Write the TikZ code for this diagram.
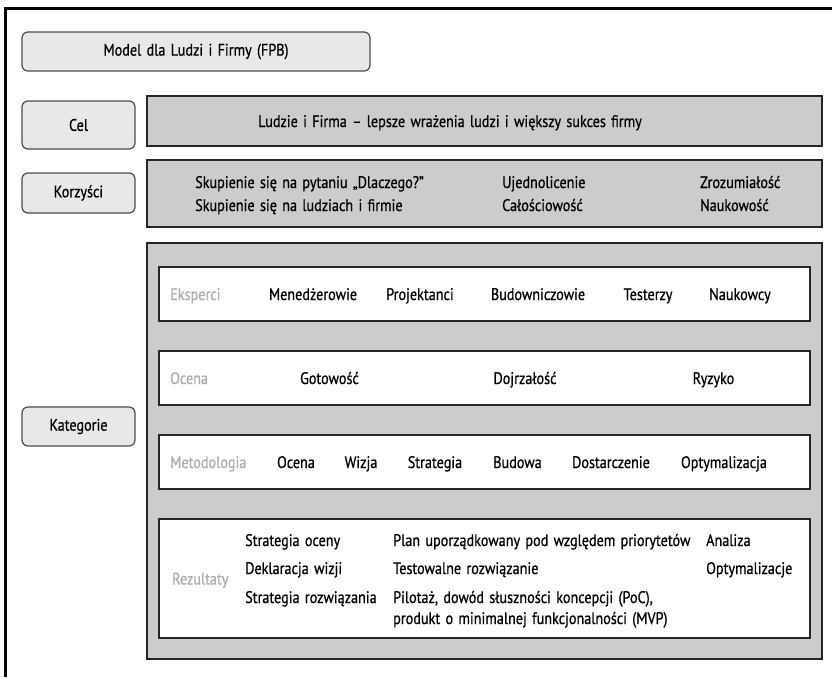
\documentclass[tikz,border=0pt]{standalone}
\usepackage{fontspec}
\setmainfont[FakeStretch=0.85,FakeBold=0.7,WordSpace=1.4]{PT Sans}
\usetikzlibrary{positioning}

\tikzset{
  labelbox/.style={draw=black!70, fill=black!9, rounded corners=6pt, line width=1.2pt, minimum width=113pt, minimum height=40pt},
  graybox/.style={draw=black!85, fill=black!20, line width=1.8pt, minimum width=675pt},
  rowbox/.style={draw=black!85, fill=white, line width=1.8pt, minimum width=651pt, minimum height=54pt},
  rowname/.style={text=black!32, anchor=base west, inner sep=0pt},
  item/.style={anchor=base, inner sep=0pt},
  leftitem/.style={anchor=base west, inner sep=0pt}
}

\begin{document}
\begin{tikzpicture}[x=1pt,y=-1pt]
\fontsize{16.7}{21}\selectfont
\useasboundingbox (0,0) rectangle (832,677);

% ramka
\draw[line width=3pt] (5,677) -- (5,9) -- (832,9);

\node[labelbox, minimum width=348pt, minimum height=39pt] (model) at (196,51.5) {Model dla Ludzi i Firmy (FPB)};

% Cel
\node[labelbox, minimum height=48pt] (cel) at (78.5,125) {Cel};
\node[graybox, minimum height=50pt] (celbox) at (484.5,121) {};
\node[item] (celtxt) at (450,127) {Ludzie i Firma -- lepsze wrażenia ludzi i większy sukces firmy};

% Korzysci
\node[labelbox] (korz) at (78.5,193) {Korzyści};
\node[graybox, minimum height=67pt] (korzbox) at (484.5,193.5) {};
\node[leftitem] (k1) at (195,188) {Skupienie się na pytaniu „Dlaczego?''};
\node[leftitem] (k2) at (195,211) {Skupienie się na ludziach i firmie};
\node[leftitem] (k3) at (502,188) {Ujednolicenie};
\node[leftitem] (k4) at (502,211) {Całościowość};
\node[leftitem] (k5) at (700,188) {Zrozumiałość};
\node[leftitem] (k6) at (700,211) {Naukowość};

% Kategorie
\node[labelbox, minimum height=39pt] (kat) at (78.5,426.5) {Kategorie};
\node[graybox, minimum height=416pt] (katbox) at (484.5,451) {};

\node[rowbox] (eks) at (484.5,294) {};
\node[rowbox] (oce) at (484.5,378) {};
\node[rowbox] (met) at (484.5,462) {};
\node[rowbox, minimum height=119pt] (rez) at (484.5,578.5) {};

\node[rowname] (eksname) at (170,300) {Eksperci};
\node[rowname] (ocename) at (170,384) {Ocena};
\node[rowname] (metname) at (170,468) {Metodologia};
\node[rowname] (rezname) at (172,584.5) {Rezultaty};

\foreach \x/\t [count=\i] in {313/Menedżerowie, 420/Projektanci, 538/Budowniczowie, 648/Testerzy, 740/Naukowcy}
  \node[item] (eks\i) at (\x,300) {\t};
\foreach \x/\t [count=\i] in {329.5/Gotowość, 525/Dojrzałość, 713.5/Ryzyko}
  \node[item] (oce\i) at (\x,384) {\t};
\foreach \x/\t [count=\i] in {296/Ocena, 361/Wizja, 435/Strategia, 517.5/Budowa, 611/Dostarczenie, 724/Optymalizacja}
  \node[item] (met\i) at (\x,468) {\t};

\foreach \y/\t [count=\i] in {546/Strategia oceny, 574/Deklaracja wizji, 603/Strategia rozwiązania}
  \node[leftitem] (reza\i) at (245,\y) {\t};
\foreach \y/\t [count=\i] in {546/Plan uporządkowany pod względem priorytetów, 574/Testowalne rozwiązanie, 603/{Pilotaż, dowód słuszności koncepcji (PoC),}, 624/produkt o minimalnej funkcjonalności (MVP)}
  \node[leftitem] (rezb\i) at (393,\y) {\t};
\foreach \y/\t [count=\i] in {546/Analiza, 574/Optymalizacje}
  \node[leftitem] (rezc\i) at (706,\y) {\t};
\end{tikzpicture}
\end{document}
